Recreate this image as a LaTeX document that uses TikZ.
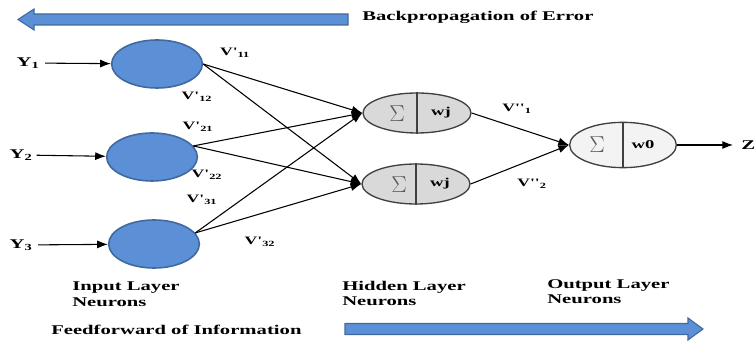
\documentclass[tikz,border=0pt]{standalone}
\usepackage{fontspec}
\setmainfont{Liberation Serif}
\newfontfamily\lblfont[FakeStretch=1.55]{Liberation Serif}
\usetikzlibrary{arrows.meta,shapes.geometric}
\definecolor{nblue}{RGB}{91,143,214}
\definecolor{nbluedark}{RGB}{65,105,160}
\definecolor{hgray}{RGB}{217,217,217}
\definecolor{ogray}{RGB}{243,243,243}
\definecolor{sgray}{RGB}{90,90,90}

\begin{document}
\begin{tikzpicture}[x=0.75pt,y=-0.75pt,
  inneuron/.style={ellipse,draw=nbluedark,line width=1.2pt,fill=nblue,
    minimum width=68pt,minimum height=36pt,inner sep=0pt},
  hidneuron/.style={ellipse,draw=black!75,line width=1pt,fill=hgray,
    minimum width=81pt,minimum height=30pt,inner sep=0pt},
  outneuron/.style={ellipse,draw=black!75,line width=1pt,fill=ogray,
    minimum width=80pt,minimum height=34pt,inner sep=0pt},
  wire/.style={line width=0.8pt,-{Latex[length=8pt,width=6pt]}},
  bigarrow/.style={draw=nbluedark,line width=0.8pt,fill=nblue},
  lbl/.style={font=\lblfont\bfseries\fontsize{10}{11.5}\selectfont,inner sep=0pt},
  vlbl/.style={font=\lblfont\bfseries\fontsize{8.5}{9}\selectfont,inner sep=0pt},
  sig/.style={font=\fontsize{16}{16}\selectfont,text=sgray,inner sep=0pt},
  wlbl/.style={font=\lblfont\bfseries\fontsize{9}{9}\selectfont,inner sep=0pt}]
\useasboundingbox (0,0) rectangle (756,341);

% direction arrows
\draw[bigarrow] (348,14) -- (34,14) -- (34,9) -- (18,19.5) -- (34,30)
  -- (34,25) -- (348,25) -- cycle;
\node[lbl,anchor=west] (bp) at (362,17) {Backpropagation of Error};
\draw[bigarrow] (345,323.5) -- (688,323.5) -- (688,318) -- (703,329)
  -- (688,340) -- (688,334.5) -- (345,334.5) -- cycle;
\node[lbl,anchor=west] (ff) at (51,330) {Feedforward of Information};

% input layer
\node[inneuron] (in1) at (157,64) {};
\node[inneuron] (in2) at (152,157) {};
\node[inneuron] (in3) at (154,244) {};
\node[lbl] (y1) at (28,63) {Y\textsubscript{1}};
\node[lbl] (y2) at (21,155) {Y\textsubscript{2}};
\node[lbl] (y3) at (21,245) {Y\textsubscript{3}};
\draw[wire,shorten <=4pt] (y1) -- (in1);
\draw[wire,shorten <=3pt] (y2) -- (in2);
\draw[wire,shorten <=4pt] (y3) -- (in3);

% hidden layer
\node[hidneuron] (h1) at (417,113) {};
\node[hidneuron] (h2) at (416,184) {};
\draw[line width=1pt,black!75] (h1.north) -- (h1.south);
\draw[line width=1pt,black!75] (h2.north) -- (h2.south);
\node[sig] (s1) at (397,114) {$\Sigma$};
\node[sig] (s2) at (399,185) {$\Sigma$};
\node[wlbl] (w1) at (441,113) {wj};
\node[wlbl] (w2) at (440,184) {wj};

% output layer
\node[outneuron] (out) at (623,145) {};
\draw[line width=1pt,black!75] (out.north) -- (out.south);
\node[sig] (s3) at (597,145) {$\Sigma$};
\node[wlbl] (w3) at (643,145) {w0};
\node[lbl,anchor=west] (z) at (741,145) {Z};
\draw[wire,shorten >=6pt] (out.east) -- (z.west);

% weights
\draw[wire] (in1.east) -- (h1.west);
\draw[wire] (in1.east) -- (h2.west);
\draw[wire] (in2.15) -- (h1.west);
\draw[wire] (in2.15) -- (h2.west);
\draw[wire] (in3.15) -- (h1.west);
\draw[wire] (in3.15) -- (h2.west);
\draw[wire] (h1.east) -- (out.west);
\draw[wire] (h2.east) -- (out.west);

\node[vlbl] (v11) at (235,53) {V'\textsubscript{11}};
\node[vlbl] (v12) at (197,97) {V'\textsubscript{12}};
\node[vlbl] (v21) at (198,127) {V'\textsubscript{21}};
\node[vlbl] (v22) at (207,175) {V'\textsubscript{22}};
\node[vlbl] (v31) at (202,200) {V'\textsubscript{31}};
\node[vlbl] (v32) at (260,242) {V'\textsubscript{32}};
\node[vlbl] (v1) at (517,109) {V''\textsubscript{1}};
\node[vlbl] (v2) at (532,184) {V''\textsubscript{2}};

% layer names
\node[lbl,anchor=north west,align=left] (il) at (72,282) {Input Layer\\Neurons};
\node[lbl,anchor=north west,align=left] (hl) at (342,281) {Hidden Layer\\Neurons};
\node[lbl,anchor=north west,align=left] (ol) at (547,279) {Output Layer\\Neurons};
\end{tikzpicture}
\end{document}
